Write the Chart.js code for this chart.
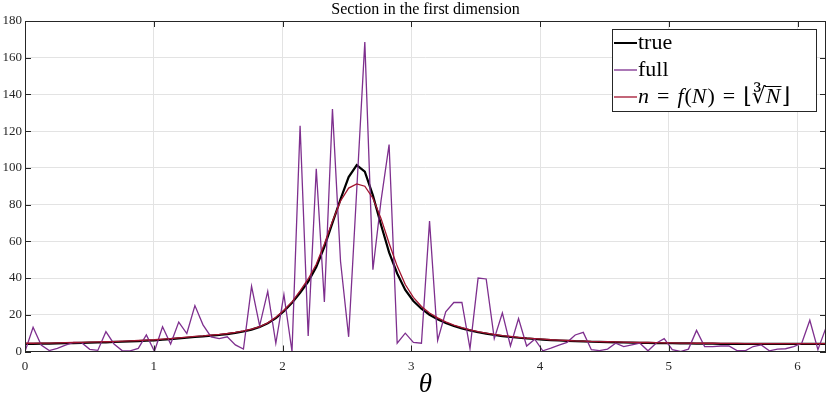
<!DOCTYPE html>
<html>
<head>
<meta charset="utf-8">
<script src="https://cdn.jsdelivr.net/npm/chart.js@4.4.1/dist/chart.umd.min.js"></script>
<style>
  html, body { margin: 0; padding: 0; background: #fff; }
  #wrap { width: 830px; height: 405px; position: relative; }
</style>
</head>
<body>
<div id="wrap"><canvas id="myChart"></canvas></div>
<script>
// tick labels
const xTicks = [0, 1, 2, 3, 4, 5, 6];
const yTicks = [0, 20, 40, 60, 80, 100, 120, 140, 160, 180];

// series values (100 samples over [0, 2pi))
const trueVals = [
    4.2, 4.2, 4.3, 4.3, 4.4, 4.5, 4.6, 4.7, 4.8, 4.9,
    5.0, 5.2, 5.3, 5.5, 5.7, 5.9, 6.1, 6.4, 6.7, 7.1,
    7.5, 7.9, 8.2, 8.6, 9.0, 9.5, 10.1, 10.9, 11.9, 13.3,
    15.3, 18.2, 22, 26.5, 32, 38, 46, 57, 70, 83,
    95, 101.5, 98, 85, 69, 54, 42.5, 33.5, 27.5, 23.3,
    20, 17.5, 15.5, 13.9, 12.6, 11.5, 10.5, 9.7, 9.0, 8.4,
    7.9, 7.5, 7.1, 6.8, 6.5, 6.2, 6.0, 5.8, 5.6, 5.5,
    5.3, 5.2, 5.1, 5.0, 4.9, 4.8, 4.7, 4.7, 4.6, 4.5,
    4.5, 4.4, 4.4, 4.3, 4.3, 4.3, 4.2, 4.2, 4.2, 4.1,
    4.1, 4.1, 4.1, 4.1, 4.1, 4.1, 4.1, 4.1, 4.1, 4.1
];
const fullVals = [
    0, 13.2, 3.5, 0.5, 1.7, 3.5, 5, 4.8, 1.2, 0.6,
    10.8, 4.1, 0.5, 0.3, 1.7, 9, 0.1, 13.5, 4.1, 16,
    9.8, 25, 14.5, 8, 7, 8, 3.6, 1.3, 35.5, 14,
    32.7, 4.5, 31, 0, 123, 8.5, 99.5, 27, 132, 49,
    8, 88, 168.5, 44.5, 82, 112.7, 4.5, 10, 5, 4.5,
    71, 6, 21.6, 26.7, 26.7, 1.6, 40, 39.5, 7, 21,
    3, 18, 3, 6.7, 0.4, 1.8, 3.5, 5, 9, 10.4,
    1, 0.5, 1.3, 4.5, 2.7, 3.6, 4.5, 0.4, 4.5, 7,
    1, 0, 1.3, 11.5, 2.7, 2.7, 3, 3, 0.5, 0.4,
    2.7, 3.6, 0.4, 1.3, 1.5, 2.7, 4.5, 17, 1, 13
];
const cbrtVals = [
    4.5, 4.5, 4.6, 4.6, 4.7, 4.8, 4.9, 5.0, 5.1, 5.2,
    5.3, 5.4, 5.6, 5.8, 6.0, 6.2, 6.4, 6.7, 7.0, 7.4,
    7.8, 8.2, 8.5, 8.9, 9.3, 9.8, 10.4, 11.2, 12.2, 13.5,
    15.6, 18.6, 22.5, 27, 33, 39.5, 47.5, 58.5, 71, 82,
    89, 91.3, 90, 83.5, 72.5, 59, 46.5, 36.5, 29.5, 24.5,
    21, 18.3, 16.1, 14.4, 13, 11.8, 10.8, 10, 9.3, 8.7,
    8.2, 7.7, 7.3, 7.0, 6.7, 6.4, 6.2, 6.0, 5.8, 5.7,
    5.5, 5.4, 5.3, 5.2, 5.1, 5.0, 4.9, 4.9, 4.8, 4.7,
    4.7, 4.6, 4.6, 4.5, 4.5, 4.5, 4.4, 4.4, 4.4, 4.3,
    4.3, 4.3, 4.3, 4.3, 4.3, 4.3, 4.3, 4.3, 4.3, 4.3
];

// theta grid
const theta = trueVals.map((_, i) => i * 2 * Math.PI / trueVals.length);
const toPoints = (vals) => vals.map((v, i) => ({ x: theta[i], y: v }));

const SERIF = '"Liberation Serif", "DejaVu Serif", serif';
const AXIS = '#262626';

// title, theta label, box with inner ticks, legend
const overlay = {
    id: 'overlay',
    afterDraw(chart) {
        const ctx = chart.ctx;
        const a = chart.chartArea;
        const sx = chart.scales.x, sy = chart.scales.y;
        ctx.save();

        // box
        ctx.strokeStyle = AXIS;
        ctx.lineWidth = 1;
        ctx.strokeRect(Math.round(a.left) + 0.5, Math.round(a.top) + 0.5,
            Math.round(a.right - a.left) - 1, Math.round(a.bottom - a.top) - 1);

        // inner ticks
        ctx.beginPath();
        xTicks.forEach((v) => {
            const px = Math.round(sx.getPixelForValue(v)) + 0.5;
            ctx.moveTo(px, a.bottom); ctx.lineTo(px, a.bottom - 6);
            ctx.moveTo(px, a.top); ctx.lineTo(px, a.top + 6);
        });
        yTicks.forEach((v) => {
            const py = Math.round(sy.getPixelForValue(v)) + 0.5;
            ctx.moveTo(a.left, py); ctx.lineTo(a.left + 6, py);
            ctx.moveTo(a.right, py); ctx.lineTo(a.right - 6, py);
        });
        ctx.stroke();

        // title
        ctx.fillStyle = '#000';
        ctx.textAlign = 'center';
        ctx.textBaseline = 'middle';
        ctx.font = '16px ' + SERIF;
        ctx.fillText('Section in the first dimension', (a.left + a.right) / 2, 10);

        // x label
        ctx.font = 'italic 27px ' + SERIF;
        ctx.fillText('θ', (a.left + a.right) / 2, 385);

        // legend
        const bx = 612, by = 29, bw = 204, bh = 82;
        ctx.fillStyle = '#fff';
        ctx.fillRect(bx, by, bw, bh);
        ctx.strokeStyle = AXIS;
        ctx.strokeRect(bx + 0.5, by + 0.5, bw, bh);

        const rows = [
            { y: 43, color: '#000000', width: 2 },
            { y: 70, color: '#7e2f8e', width: 1.3 },
            { y: 97, color: '#a2142f', width: 1.3 }
        ];
        rows.forEach((r) => {
            ctx.strokeStyle = r.color;
            ctx.lineWidth = r.width;
            ctx.beginPath();
            ctx.moveTo(614, r.y); ctx.lineTo(637, r.y);
            ctx.stroke();
        });

        ctx.fillStyle = '#000';
        ctx.textAlign = 'left';
        ctx.textBaseline = 'alphabetic';
        const fs = 22;
        ctx.font = fs + 'px ' + SERIF;
        ctx.fillText('true', 638, 43 + 6);
        ctx.fillText('full', 638, 70 + 6);

        // n = f(N) = floor(cbrt(N)); [text, italic, gap before, gap after]
        const parts = [
            ['n', true, 0, 0], ['=', false, 8, 8], ['f', true, 0, 1], ['(', false, 0, 0],
            ['N', true, 0, 1], [')', false, 0, 0], ['=', false, 8, 8], ['⌊', false, 0, 0],
            ['∛', false, 0, 0], ['N', true, 0, 1], ['⌋', false, 0, 0]
        ];
        let cx = 638;
        const base = 97 + 6;
        let rootEnd = 0;
        parts.forEach((p, k) => {
            cx += p[2];
            ctx.font = (p[1] ? 'italic ' : '') + fs + 'px ' + SERIF;
            ctx.fillText(p[0], cx, base);
            const w = ctx.measureText(p[0]).width;
            if (p[0] === '∛') rootEnd = cx + w;
            if (k === 9) {
                ctx.lineWidth = 1;
                ctx.strokeStyle = '#000';
                ctx.beginPath();
                ctx.moveTo(rootEnd - 1, base - 16.5);
                ctx.lineTo(cx + w + 1, base - 16.5);
                ctx.stroke();
            }
            cx += w + p[3];
        });

        ctx.restore();
    }
};

const ctx = document.getElementById('myChart').getContext('2d');
const myChart = new Chart(ctx, {
    type: 'line',
    data: {
        datasets: [
            {
                label: 'true',
                data: toPoints(trueVals),
                borderColor: '#000000',
                borderWidth: 2.2,
                pointRadius: 0,
                order: 3
            },
            {
                label: 'full',
                data: toPoints(fullVals),
                borderColor: '#7e2f8e',
                borderWidth: 1.3,
                pointRadius: 0,
                order: 2
            },
            {
                label: 'n = f(N)',
                data: toPoints(cbrtVals),
                borderColor: '#a2142f',
                borderWidth: 1.3,
                pointRadius: 0,
                order: 1
            }
        ]
    },
    options: {
        responsive: true,
        maintainAspectRatio: false,
        animation: false,
        layout: { padding: { top: 21, right: 4, left: 0, bottom: 0 } },
        plugins: {
            legend: { display: false },
            tooltip: { enabled: false },
            title: { display: false }
        },
        scales: {
            x: {
                type: 'linear',
                min: 0,
                max: theta[theta.length - 1],
                afterBuildTicks: (s) => { s.ticks = xTicks.map((v) => ({ value: v })); },
                afterFit: (s) => { s.height = 53.5; },
                ticks: {
                    font: { family: SERIF, size: 13 },
                    color: AXIS,
                    padding: 7,
                    maxRotation: 0,
                    callback: (v) => v
                },
                grid: { color: '#e3e3e3', drawTicks: false },
                border: { display: false }
            },
            y: {
                min: 0,
                max: 180,
                afterBuildTicks: (s) => { s.ticks = yTicks.map((v) => ({ value: v })); },
                afterFit: (s) => { s.width = 25; },
                ticks: {
                    font: { family: SERIF, size: 13 },
                    color: AXIS,
                    padding: 3,
                    callback: (v) => v
                },
                grid: { color: '#e3e3e3', drawTicks: false },
                border: { display: false }
            }
        }
    },
    plugins: [overlay]
});
</script>
</body>
</html>
